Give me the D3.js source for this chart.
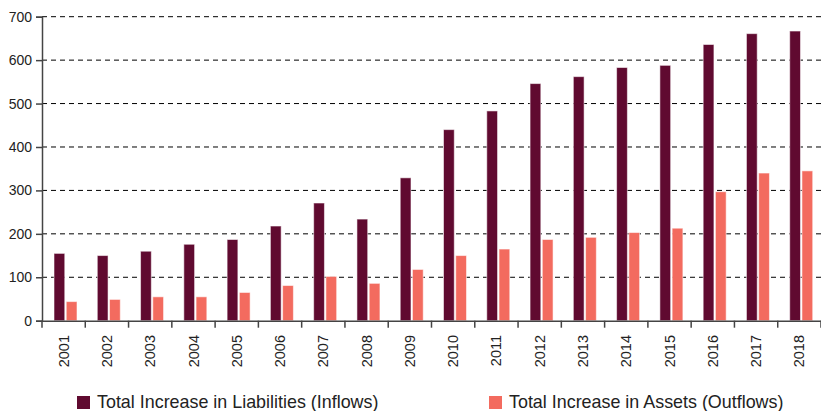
<!DOCTYPE html>
<html>
<head>
<meta charset="utf-8">
<script src="https://cdn.jsdelivr.net/npm/d3@7/dist/d3.min.js"></script>
<style>
  body { margin: 0; background: #fff; }
  text { font-family: "Liberation Sans", Arial, sans-serif; fill: #222; }
</style>
</head>
<body>
<div id="chartDiv"></div>
<script>
var years = ["2001","2002","2003","2004","2005","2006","2007","2008","2009",
             "2010","2011","2012","2013","2014","2015","2016","2017","2018"];
var liabilities = [155, 150, 160, 176, 187, 218, 271, 234, 329,
                   440, 483, 546, 562, 583, 588, 636, 661, 667];
var assets = [44, 49, 55, 55, 65, 81, 102, 86, 118,
              150, 165, 187, 192, 203, 213, 297, 340, 345];
var seriesNames = ["Total Increase in Liabilities (Inflows)", "Total Increase in Assets (Outflows)"];
var seriesColors = ["#600a30", "#f36b5f"];
var yTicks = [0, 100, 200, 300, 400, 500, 600, 700];

var width = 821, height = 411;
var margin = {top: 17, right: 0, bottom: 91, left: 42};

var svg = d3.select("#chartDiv").append("svg")
    .attr("width", width)
    .attr("height", height);

var x0 = d3.scaleBand()
    .domain(years)
    .range([margin.left, width - margin.right]);

var x1 = d3.scaleBand()
    .domain([0, 1])
    .range([12, 35])
    .paddingInner(0.12);

var y = d3.scaleLinear()
    .domain([0, 700])
    .range([height - margin.bottom + 0.7, margin.top - 0.3]);

// dashed grid
svg.append("g").attr("class", "grid")
  .selectAll("line").data(yTicks.filter(function(d){ return d > 0; }))
  .enter().append("line")
    .attr("x1", margin.left)
    .attr("x2", width)
    .attr("y1", function(d){ return y(d); })
    .attr("y2", function(d){ return y(d); })
    .style("stroke", "#000")
    .style("stroke-width", 1)
    .style("stroke-dasharray", "5,4");

// bars
var groups = svg.append("g").selectAll(".year").data(years)
  .enter().append("g").attr("class", "year")
    .attr("transform", function(d){ return "translate(" + x0(d) + ",0)"; });

groups.selectAll("rect")
  .data(function(d, i){ return [liabilities[i], assets[i]]; })
  .enter().append("rect")
    .attr("x", function(d, j){ return x1(j); })
    .attr("width", x1.bandwidth())
    .attr("y", function(d){ return y(d); })
    .attr("height", function(d){ return y(0) - y(d); })
    .attr("fill", function(d, j){ return seriesColors[j]; })
    .style("stroke", "rgba(255,255,255,0.55)")
    .style("stroke-width", 1);

// y axis
var yAxis = svg.append("g")
    .attr("transform", "translate(" + margin.left + ",0)")
    .call(d3.axisLeft(y).tickValues(yTicks).tickSize(6).tickPadding(4));
yAxis.selectAll("text").style("font-size", "14px").style("fill", "#222");

// x axis
var xAxis = svg.append("g")
    .attr("transform", "translate(0," + y(0) + ")")
    .call(d3.axisBottom(x0).tickSize(0).tickFormat(""));

xAxis.selectAll(".bound").data(years.concat(["end"]))
  .enter().append("line").attr("class", "bound")
    .attr("x1", function(d, i){ return margin.left + i * x0.step(); })
    .attr("x2", function(d, i){ return margin.left + i * x0.step(); })
    .attr("y1", 0)
    .attr("y2", 7)
    .style("stroke", "#444")
    .style("stroke-width", 1.5);

svg.selectAll(".domain").style("stroke", "#444").style("stroke-width", 1.5);
yAxis.selectAll(".tick line").style("stroke", "#444").style("stroke-width", 1.5);

svg.append("g").selectAll(".xlab").data(years)
  .enter().append("text").attr("class", "xlab")
    .text(function(d){ return d; })
    .attr("text-anchor", "end")
    .attr("dy", "0.35em")
    .style("font-size", "14.5px")
    .attr("transform", function(d){
      return "translate(" + (x0(d) + x0.bandwidth() / 2) + "," + 335 + ") rotate(-90)";
    });

// legend
var legendX = [77, 489];
var legend = svg.append("g").selectAll(".legend").data(seriesNames)
  .enter().append("g").attr("class", "legend")
    .attr("transform", function(d, i){ return "translate(" + legendX[i] + ",396)"; });

legend.append("rect")
    .attr("width", 13)
    .attr("height", 13)
    .attr("fill", function(d, i){ return seriesColors[i]; });

legend.append("text")
    .text(function(d){ return d; })
    .attr("x", 20)
    .attr("y", 12)
    .style("font-size", "17.9px");
</script>
</body>
</html>
